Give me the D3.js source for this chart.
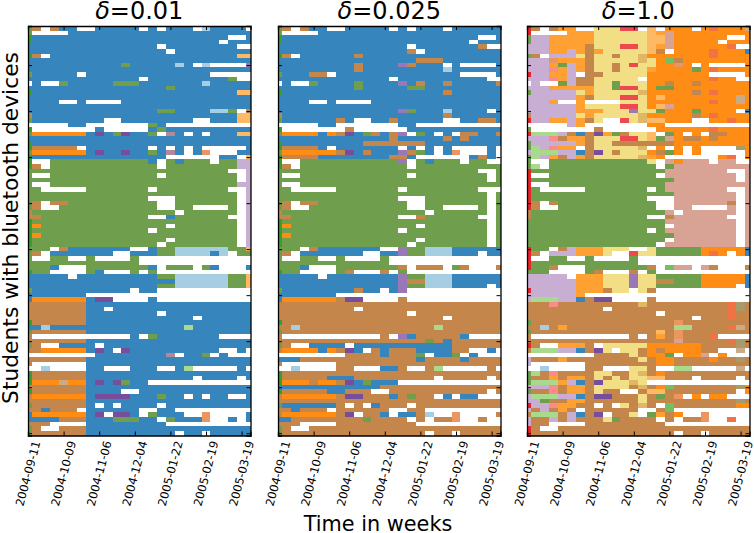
<!DOCTYPE html>
<html>
<head>
<meta charset="utf-8">
<script src="https://d3js.org/d3.v7.min.js"></script>
<style>
body {margin: 0; background: white;}
text {font-family: "DejaVu Sans", sans-serif; fill: black;}
.domain {stroke: black; stroke-width: 1.3px;}
.tick line {stroke: black; stroke-width: 1px;}
</style>
</head>
<body>
<div id="chart"></div>
<script>
var deltas = ["0.01", "0.025", "1.0"];
var weekTicks = [0, 4, 8, 12, 16, 20, 24];
var weekLabels = ["2004-09-11", "2004-10-09", "2004-11-06", "2004-12-04", "2005-01-22", "2005-02-19", "2005-03-19"];
var rowTicks = [8, 18, 28, 38, 48, 58, 68, 78, 88];

// community codes used in the rows below, "." is absent
var codes = ["a","b","c","e","f","g","h","k","L","n","o","O","p","q","r","R","s","t","u","v","w","x","y","Y"];
var codeColors = ["#a6cee3","#3686bd","#36a02f","#a9d98c","#74bf62","#6f9e4c","#fdb966","#fb8a8a","#c9aed3","#c4864a",
  "#ff8c14","#ffa033","#774e9c","#9a78b8","#e9232a","#ec4a4c","#d8a394","#f07245","#c9ac87","#a89a6a","#b08a9a","#ec965f","#f2df85","#dfb765"];

// one string per student, top to bottom, run length coded over the 26 weeks
var rowsLow = ["gn.nb2.2b5.b.b3.ab4.","g.4b21","cb22.2b","cb21.b3","b15.b8.2","b16.b9","cn.b21h2","b26","b11gb5ab.a.4q","b26",
"gb5.b14.5","b13.b9g.2",".b.2gb5g3b7ab5","b16gb9","cb23h2","b26","b4.2b.4b15","b26","b15g2b4a2g.n","nb23h2",
"gb8.2b8.2b3h2",".5b2.7gb.10","c.7b.5bgb10","go6bpbgpb2g.wb.b.b3h2","b26","cb25","cn5.b7.b.b.b.5b","go6bpb2pb2gbwb.bx.3b2","cb15.6b2.h","c.2g11b.gbg3.g2L2",
"cn.g12.g8L2","g23.2L","g.2g12.g8.L","g24.L","g.2g21L2","g2.5g7.g8.2L","g24.L","g14.3g7.L","gn.n2g10.2g7.L","gn.2g11.2g2.4g.L",
"ng16.g6.L","n2g12.2bg6.2L","cg23.L","cog14.g7.L","cg13.g9.L","cog22.L","cg15.g7.L","cg14.g8.L","g3.nb7.2bg2a6g2h","gn.b7.2b3g2a4ba.g2",
"g.2g2.2g.4g.13","g13.13","g3b.3g7b.g3.gb.3b","cg2.4gb.3g.g.11","b5.b9g2a6g2h","b17a6g2h","b15g2a6g2h","gb11.b2.11","b7.19","bo6bp2.4b.11",
"n7b19","n7b2.b16","n7b8.b10","n7b12.b6","cn6b19","b2ab15eb7","gn6b19","n.11b.gb7.4","n7b19","gn.2b4.b17",
"n2o5bpb.pb10.2b.",".8b8w.b2g.b.3","n7b19","n.6b19",".2a.4b2.3b3.2be.5b.","cn6b19","cn6b12.b4.b","co3uo2bpbpgb2.12","n7b19","cn6b4.2b13",
"no6bp4b3gb2.b.b2.2b","n7b19","gn6b.b.b4.b10","n2bn3.b6.2b2.9","bo6bp.p2b.gb3.2x.4b","b4n3b3g3b2.gb3x.2b.b","n3.4b9.10","gn.2n3b19","gn6b10.b2.b5"];

var rowsMid = ["gn.nb2.2b5.b.b3.b6","g.4b21","cb22.2b","cb21.b3","b15.b7n.2","b15n.b9","cn.b6nb16","b16n3b7","b9nb4qnb3.b.4b","b9nb9ab6",
"gb3n2.b14.4b","b13.b10.2",".b.2gb4gb4qbnb2nb5n","b9gb5g2b9","cb18nb6","b26","b4.2b.4b15","b26","b14qgb3ab4.b","nb18nb6",
"gb6nb.2b2nb5.2b2n2b",".5b2.7b2.10","c.7n.6b11","go4bonpbgnbnq.gb.b.n2b2n","b13nb5nbnb4","cb9n7b9","cn4b.b7.b.b.b.4b.","go6npbnb3qngb.bx.3b.","cn4b8n2b.6bnb.","c.2g11q.gbg3.g2.2",
"cn.g12.g10","g23.2g","g.2g12.g8.g","g24.g","g.2g23","g2.5g7.g8.3","g24.g","g14.3g7.g","gn.n2g10.2g7.g","gn.2g11.2g2.4g.g",
"ng16.g6.g","n2g12.2ng6.2g","cg23.g","cog14.g7.g","cg13.g9.g","cog22.g","cg15.g7.g","cg14.g8.g","g3.nb7.2qg2a3b6","gn.b7.2b2qg2a3b3.b2",
"g.2g2.2g.4g.13","g13.13","g3b.3g7n.n3.gn.3n","cg2.4gn.3n.g.11","b5.b8qg2a3b6","b14qn2a3b6","b14qg2a3b4.b","gb8nb2.bq.11","b7.19","bo6np2.4n.11",
"n26","n9.n16","n15.n10","n19.n6","cn25","n2an15en7","gn25","n.11n.qbn5b.4","n17gnbn6","gn.2b4.b11n6",
"no4bonpb.nbn3b4n2.2b.",".8n4bn3g.b2g.b.3","b3n13bn4bn4","n.6n19",".2a.4n2.3b2n.2ne.5n.","cn25","cn5b3n9.n5.n","co3no2npbgb3.12","b12n14","cn5b2n3.2n11.n",
"no6np2n3bngn2.b.b2.3","n26","gb6n.n.bn3.n10","n2bn3.n6.2n2.9","no6np.n2b.b2na.2x.4n","b2n8gn4.n.n2x.2n.2","n3.4n9.10","gn.2n22","gn16.n2.n5"];

var rowsHigh = ["rn.nO2.2y3R2.h.o3.oto3u","r.4O3y6hOso9","gL2O5y6h2so6.2o","gL2O5y6h2so5.o3","L3O4ny3R2yhOso6t.2","L3O2LOnOy5hn.o4to3b","gn.L3yny2ny2Yo7to4","L3xO3ny5Yyofno8","L3OgLOny2nyRy2o2xo.o.4o","L3kOLOny2ny3Oo4goto4",
"rL2O2L.n2y5o7.4o","L3kOLn2y5.o7to2.2",".L.2gLn2y2gy3o2no2no6","L3O5y2gR2yog2o9","gL5yOy5Yo5noto4","L6Ony3R2yoho8uo","L3O.2O.4y3o7to2uo","L6Oy4R2yohso9","L6O3y3qy2go3go4.b","nL5yOy5Yo5noto4",
"rL2O2LOny.2RyYh2o3.2o2to2",".5LO.7o2.10","g.7n.6o6to4","re3LnbnpOgny2h.go.o.n2o3","L3knO2ny3R2yhgson2ono4","gL5Ony2n7o9","geLkO2.ny5Y.o.o.o.4vo","Le3L2bnpyny3ongo.o.5o","geLOnLOny5YOo.6ot.o","g.2g11y.sos3.s2.2",
"ge.g12.gs9","rg15s7.2s","r.2g12.s8.s","rg16s7.s","r.2g13s10","rg.5g7.gs7.2s","rg16s7.s","rg13.3s7.s","rn.ng11.2s6n.s","rn.2g11.2s2.4s.s",
"ng15s.s6.s","ng13.2ns6.2s","g16s8.s","g16.s7.s","g14.gs8.s","g17s7.s","g16.s7.s","g15.s8.s","rg2.nLO3y3.2yg5o5b","rn.L3O3y.2Ry2g5oto.ob",
"r.2g2.2g.4g.13","rg12.13","rg2n.3g7n.fs2.sn.3n","g3.4gn.3n.g.11","L5.O3y3qy2g5o5b","L6O3y3qy2n2g3o5b","L6O3y3qy2g5o4.b","rL5O3ny2.yn.11","L6O.19","Le3L2bnp2.4n.11",
"n3kn9Yn9tvn","n9.n13tvn","n15.n7tn2","n19.n3tn2","gn16xn8","n2anOn12e2n4tun","gn14hnxn8","n.11n.nOnxn3t.4","n17sn5tvn","rn.2O3n.y5o6n4vn",
"ne3L2bnpy.y2nono4n2.2u.",".8n4yno2g.o2s.o.3","Ln3On8yno2n4on2vn","L.6n8o2n9",".2a.4n2.3y2n.2e2.5u.","genkn4y2n2yYnon10","gn2OnO2nynyny2h2n3.n4.n","ge3OLbnpy3Yy.12","L3knO2ny4nYnofn7vo","gn2knO2nyn2.2nh2n8.o",
"Le3L2bnp2n3yngnx.o.o2.3","L2gn2O2n6yn10vn","rL2kO2n2.n.ynYn.fn7o2","LnLnOn.n6.2nf.9","ne3nLbnp.n2y.gOno.2x.5","Ln2LnLn3ygn4.n.n2x.2t.2","Ln2.4n9.10","rn.2n22","rn16.n2.n5"];

var panels = [rowsLow, rowsMid, rowsHigh];
var panelLeft = [28, 278, 527];
var panelWidth = 222.5;
var plotTop = 26, plotBottom = 435.5;

var svg = d3.select("#chart").append("svg")
  .attr("width", 754)
  .attr("height", 533)
  .style("display", "block");

var color = d3.scaleOrdinal().domain(codes).range(codeColors);

// turn "g3.2b" into one code per week
function expand(row) {
  var out = [];
  row.replace(/(\D)(\d*)/g, function(m, c, n) {
    for (var i = 0; i < (n ? +n : 1); i++) out.push(c);
    return m;
  });
  return out;
}

panels.forEach(function(rows, p) {
  var x = d3.scaleLinear().domain([0, 25]).range([0, panelWidth]);
  var y = d3.scaleLinear().domain([-0.5, rows.length - 0.5]).range([0, plotBottom - plotTop]);

  var g = svg.append("g")
    .attr("transform", "translate(" + panelLeft[p] + "," + plotTop + ")");

  var cells = [];
  rows.forEach(function(row, r) {
    expand(row).forEach(function(c, w) {
      if (c != ".") cells.push({row: r, week: w, code: c});
    });
  });

  g.selectAll("rect.cell")
    .data(cells)
    .enter().append("rect")
      .attr("class", "cell")
      .attr("x", function(d) { return x(Math.max(0, d.week - 0.5)); })
      .attr("width", function(d) { return x(Math.min(25, d.week + 0.5)) - x(Math.max(0, d.week - 0.5)); })
      .attr("y", function(d) { return y(d.row - 0.5); })
      .attr("height", function(d) { return y(d.row + 0.5) - y(d.row - 0.5); })
      .attr("shape-rendering", "crispEdges")
      .style("fill", function(d) { return color(d.code); });

  // ticks point inwards on all four sides
  g.append("g").call(d3.axisTop(x).tickValues(weekTicks).tickSize(-4).tickFormat(""));
  g.append("g").attr("transform", "translate(0," + (plotBottom - plotTop) + ")")
    .call(d3.axisBottom(x).tickValues(weekTicks).tickSize(-4).tickFormat(""));
  g.append("g").call(d3.axisLeft(y).tickValues(rowTicks).tickSize(-4).tickFormat(""));
  g.append("g").attr("transform", "translate(" + panelWidth + ",0)")
    .call(d3.axisRight(y).tickValues(rowTicks).tickSize(-4).tickFormat(""));

  g.selectAll(".labels")
    .data(weekTicks)
    .enter().append("text")
      .attr("text-anchor", "middle")
      .attr("dominant-baseline", "central")
      .attr("transform", function(d) { return "translate(" + x(d) + "," + (plotBottom - plotTop + 38) + ") rotate(-75)"; })
      .style("font-size", "11.5px")
      .text(function(d, i) { return weekLabels[i]; });

  var title = g.append("text")
    .attr("x", panelWidth / 2)
    .attr("y", -7)
    .attr("text-anchor", "middle")
    .style("font-size", "24px");
  title.append("tspan").style("font-style", "italic").text("\u03b4");
  title.append("tspan").text("=" + deltas[p]);
});

svg.append("text")
  .attr("transform", "translate(18,228) rotate(-90)")
  .attr("text-anchor", "middle")
  .style("font-size", "21.8px")
  .text("Students with bluetooth devices");

svg.append("text")
  .attr("x", 378)
  .attr("y", 531)
  .attr("text-anchor", "middle")
  .style("font-size", "20.8px")
  .text("Time in weeks");
</script>
</body>
</html>
